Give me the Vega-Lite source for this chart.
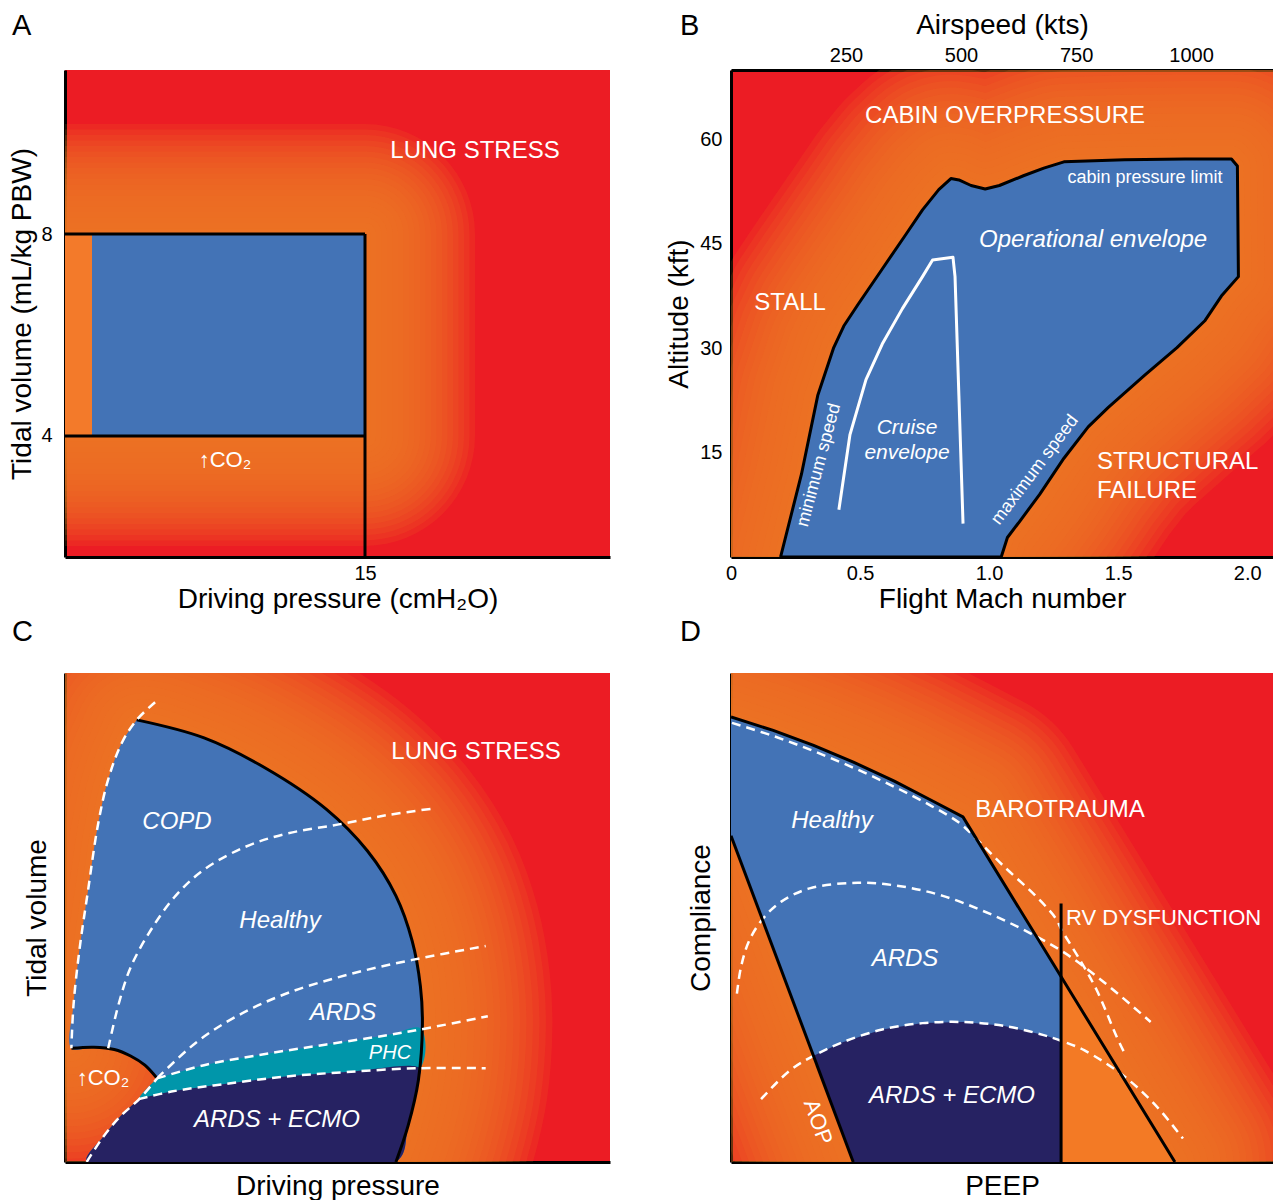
{
  "$schema": "https://vega.github.io/schema/vega-lite/v6.json",
  "padding": {"left": 8, "top": 11, "right": 0, "bottom": 0},
  "background": "white",
  "columns": 2,
  "spacing": {"row": 116, "column": 121},
  "bounds": "flush",
  "datasets": {
    "a_glow": [{"x":0,"y":8},{"x":15,"y":8},{"x":15,"y":4},{"x":0,"y":4},{"x":0,"y":8}],
    "b_env": [{"x":0.192,"y":0},{"x":0.273,"y":11.9},{"x":0.336,"y":23.2},{"x":0.398,"y":30.1},{"x":0.437,"y":33.2},{"x":0.492,"y":36.3},{"x":0.586,"y":41.4},{"x":0.680,"y":46.5},{"x":0.742,"y":49.9},{"x":0.805,"y":52.8},{"x":0.852,"y":54.4},{"x":0.883,"y":54.2},{"x":0.930,"y":53.4},{"x":0.985,"y":52.9},{"x":1.040,"y":53.4},{"x":1.133,"y":54.8},{"x":1.212,"y":55.9},{"x":1.290,"y":56.8},{"x":1.525,"y":57.1},{"x":1.759,"y":57.2},{"x":1.939,"y":57.2},{"x":1.962,"y":56.2},{"x":1.966,"y":40.3},{"x":1.900,"y":37.5},{"x":1.837,"y":34.0},{"x":1.728,"y":30.1},{"x":1.602,"y":26.1},{"x":1.462,"y":21.5},{"x":1.384,"y":18.7},{"x":1.290,"y":14.2},{"x":1.196,"y":9.0},{"x":1.118,"y":5.1},{"x":1.071,"y":2.8},{"x":1.047,"y":0},{"x":0.192,"y":0}],
    "b_cruise": [{"x":0.418,"y":6.8},{"x":0.461,"y":17.6},{"x":0.523,"y":25.5},{"x":0.586,"y":30.6},{"x":0.664,"y":35.7},{"x":0.742,"y":40.3},{"x":0.781,"y":42.7},{"x":0.860,"y":43.1},{"x":0.868,"y":40.3},{"x":0.883,"y":23.2},{"x":0.899,"y":4.8}],
    "c_glow": [{"x":1.17,"y":23.25},{"x":1.56,"y":32.11},{"x":2.68,"y":43.64},{"x":4.18,"y":55.17},{"x":6.06,"y":69.04},{"x":7.93,"y":78.26},{"x":10.53,"y":85.95},{"x":13.16,"y":90.41},{"x":25.52,"y":86.73},{"x":36.75,"y":80.57},{"x":47.98,"y":72.11},{"x":55.47,"y":63.64},{"x":60.72,"y":54.42},{"x":63.71,"y":45.17},{"x":65.21,"y":35.95},{"x":65.58,"y":28.26},{"x":64.84,"y":16.71},{"x":62.97,"y":7.48},{"x":60.72,"y":0}],
    "c_blue": [{"x":13.16,"y":90.41},{"x":25.52,"y":86.73},{"x":36.75,"y":80.57},{"x":47.98,"y":72.11},{"x":55.47,"y":63.64},{"x":60.72,"y":54.42},{"x":63.71,"y":45.17},{"x":65.21,"y":35.95},{"x":65.58,"y":28.26},{"x":64.84,"y":16.71},{"x":62.97,"y":7.48},{"x":60.72,"y":0},{"x":3.98,"y":0},{"x":7.03,"y":5.17},{"x":10.09,"y":9.26},{"x":13.76,"y":13.03},{"x":16.90,"y":17.10},{"x":14.66,"y":19.80},{"x":12.04,"y":21.68},{"x":9.05,"y":23.01},{"x":5.30,"y":23.48},{"x":1.17,"y":23.25},{"x":1.56,"y":32.11},{"x":2.68,"y":43.64},{"x":4.18,"y":55.17},{"x":6.06,"y":69.04},{"x":7.93,"y":78.26},{"x":10.53,"y":85.95},{"x":13.16,"y":90.41}],
    "c_teal": [{"x":16.90,"y":17.10},{"x":25.52,"y":19.80},{"x":36.75,"y":22.09},{"x":47.98,"y":24.03},{"x":59.23,"y":25.95},{"x":65.3,"y":27.3},{"x":65.1,"y":19.18},{"x":51.72,"y":18.40},{"x":40.50,"y":17.48},{"x":29.27,"y":15.95},{"x":19.52,"y":14.40},{"x":13.6,"y":12.9},{"x":16.90,"y":17.10}],
    "c_navy": [{"x":13.6,"y":12.9},{"x":19.52,"y":14.40},{"x":29.27,"y":15.95},{"x":40.50,"y":17.48},{"x":51.72,"y":18.40},{"x":65.1,"y":19.18},{"x":64.84,"y":16.71},{"x":62.97,"y":7.48},{"x":60.72,"y":0},{"x":3.98,"y":0},{"x":7.03,"y":5.17},{"x":10.09,"y":9.26},{"x":13.6,"y":12.9}],
    "c_black": [
      {"id":"outer","x":13.16,"y":90.41},{"id":"outer","x":25.52,"y":86.73},{"id":"outer","x":36.75,"y":80.57},{"id":"outer","x":47.98,"y":72.11},{"id":"outer","x":55.47,"y":63.64},{"id":"outer","x":60.72,"y":54.42},{"id":"outer","x":63.71,"y":45.17},{"id":"outer","x":65.21,"y":35.95},{"id":"outer","x":65.58,"y":28.26},{"id":"outer","x":64.84,"y":16.71},{"id":"outer","x":62.97,"y":7.48},{"id":"outer","x":60.72,"y":0},
      {"id":"arc","x":1.17,"y":23.25},{"id":"arc","x":5.30,"y":23.48},{"id":"arc","x":9.05,"y":23.01},{"id":"arc","x":12.04,"y":21.68},{"id":"arc","x":14.66,"y":19.80},{"id":"arc","x":16.90,"y":17.10}
    ],
    "c_dashed": [
      {"id":"left","x":16.53,"y":94.03},{"id":"left","x":13.16,"y":90.41},{"id":"left","x":10.53,"y":85.95},{"id":"left","x":7.93,"y":78.26},{"id":"left","x":6.06,"y":69.04},{"id":"left","x":4.18,"y":55.17},{"id":"left","x":2.68,"y":43.64},{"id":"left","x":1.56,"y":32.11},{"id":"left","x":1.17,"y":23.25},
      {"id":"copd","x":7.93,"y":23.25},{"id":"copd","x":9.80,"y":32.11},{"id":"copd","x":12.04,"y":39.80},{"id":"copd","x":15.78,"y":47.49},{"id":"copd","x":20.28,"y":54.42},{"id":"copd","x":25.52,"y":59.80},{"id":"copd","x":33.01,"y":64.42},{"id":"copd","x":40.50,"y":67.10},{"id":"copd","x":50.24,"y":69.04},{"id":"copd","x":59.23,"y":70.96},{"id":"copd","x":67.47,"y":72.27},
      {"id":"ards","x":16.90,"y":17.10},{"id":"ards","x":24.02,"y":24.40},{"id":"ards","x":31.50,"y":29.80},{"id":"ards","x":40.50,"y":34.40},{"id":"ards","x":51.72,"y":38.26},{"id":"ards","x":63.71,"y":41.33},{"id":"ards","x":77.19,"y":44.17},
      {"id":"phct","x":16.90,"y":17.10},{"id":"phct","x":25.52,"y":19.80},{"id":"phct","x":36.75,"y":22.09},{"id":"phct","x":47.98,"y":24.03},{"id":"phct","x":59.23,"y":25.95},{"id":"phct","x":65.21,"y":27.10},{"id":"phct","x":77.58,"y":29.80},
      {"id":"phcb","x":13.54,"y":12.86},{"id":"phcb","x":19.52,"y":14.40},{"id":"phcb","x":29.27,"y":15.95},{"id":"phcb","x":40.50,"y":17.48},{"id":"phcb","x":51.72,"y":18.40},{"id":"phcb","x":64.84,"y":19.18},{"id":"phcb","x":77.19,"y":19.18},
      {"id":"ecmo","x":3.98,"y":0},{"id":"ecmo","x":7.03,"y":5.17},{"id":"ecmo","x":10.09,"y":9.26},{"id":"ecmo","x":13.76,"y":13.03},{"id":"ecmo","x":16.90,"y":17.10}
    ],
    "d_glow": [{"x":0,"y":91.0},{"x":7.79,"y":88.26},{"x":15.24,"y":85.19},{"x":22.69,"y":81.72},{"x":30.13,"y":77.87},{"x":36.85,"y":74.03},{"x":42.80,"y":70.57},{"x":81.90,"y":0},{"x":22.55,"y":0},{"x":0,"y":66.73},{"x":0,"y":91.0}],
    "d_blue": [{"x":0,"y":91.0},{"x":7.79,"y":88.26},{"x":15.24,"y":85.19},{"x":22.69,"y":81.72},{"x":30.13,"y":77.87},{"x":36.85,"y":74.03},{"x":42.80,"y":70.57},{"x":60.90,"y":37.89},{"x":60.90,"y":0},{"x":22.55,"y":0},{"x":0,"y":66.73},{"x":0,"y":91.0}],
    "d_navy": [{"x":15.24,"y":21.72},{"x":20.46,"y":24.42},{"x":27.90,"y":27.10},{"x":35.35,"y":28.40},{"x":42.80,"y":28.63},{"x":50.24,"y":27.87},{"x":57.69,"y":25.95},{"x":60.90,"y":24.79},{"x":60.90,"y":0},{"x":22.55,"y":0},{"x":15.24,"y":21.72}],
    "d_black": [
      {"id":"top","x":0,"y":91.0},{"id":"top","x":7.79,"y":88.26},{"id":"top","x":15.24,"y":85.19},{"id":"top","x":22.69,"y":81.72},{"id":"top","x":30.13,"y":77.87},{"id":"top","x":36.85,"y":74.03},{"id":"top","x":42.80,"y":70.57},{"id":"top","x":81.90,"y":0},
      {"id":"aop","x":0,"y":66.73},{"id":"aop","x":22.55,"y":0},
      {"id":"rv","x":60.90,"y":52.86},{"id":"rv","x":60.90,"y":0}
    ],
    "d_dashed": [
      {"id":"healthy","x":0.18,"y":89.80},{"id":"healthy","x":7.79,"y":87.12},{"id":"healthy","x":15.24,"y":84.03},{"id":"healthy","x":22.69,"y":80.57},{"id":"healthy","x":30.13,"y":76.73},{"id":"healthy","x":36.85,"y":72.88},{"id":"healthy","x":42.05,"y":69.41},{"id":"healthy","x":45.04,"y":66.34},{"id":"healthy","x":50.24,"y":60.57},{"id":"healthy","x":56.20,"y":54.42},{"id":"healthy","x":59.93,"y":49.80},{"id":"healthy","x":61.01,"y":47.44},{"id":"healthy","x":64.39,"y":41.31},{"id":"healthy","x":67.47,"y":35.17},{"id":"healthy","x":71.16,"y":25.62},{"id":"healthy","x":72.51,"y":22.49},
      {"id":"ards","x":1.09,"y":34.42},{"id":"ards","x":1.83,"y":39.80},{"id":"ards","x":3.32,"y":45.17},{"id":"ards","x":5.92,"y":49.80},{"id":"ards","x":9.28,"y":53.25},{"id":"ards","x":14.50,"y":55.95},{"id":"ards","x":23.43,"y":57.10},{"id":"ards","x":31.62,"y":56.34},{"id":"ards","x":39.08,"y":54.42},{"id":"ards","x":46.53,"y":51.33},{"id":"ards","x":53.97,"y":47.49},{"id":"ards","x":61.42,"y":42.86},{"id":"ards","x":68.87,"y":36.71},{"id":"ards","x":77.43,"y":28.63},
      {"id":"ecmo","x":5.55,"y":12.86},{"id":"ecmo","x":10.77,"y":18.63},{"id":"ecmo","x":15.24,"y":21.72},{"id":"ecmo","x":20.46,"y":24.42},{"id":"ecmo","x":27.90,"y":27.10},{"id":"ecmo","x":35.35,"y":28.40},{"id":"ecmo","x":42.80,"y":28.63},{"id":"ecmo","x":50.24,"y":27.87},{"id":"ecmo","x":57.69,"y":25.95},{"id":"ecmo","x":60.90,"y":24.79},{"id":"ecmo","x":65.15,"y":22.86},{"id":"ecmo","x":72.60,"y":17.48},{"id":"ecmo","x":78.56,"y":11.33},{"id":"ecmo","x":83.39,"y":4.79}
    ]
  },
  "concat": [
    {
      "width": 545, "height": 487,
      "title": {"text": "A", "dx": -53, "offset": 29, "frame": "group"},
      "view": {"fill": "#EC1C24", "stroke": null},
      "encoding": {
        "x": {"field": "x", "type": "quantitative", "scale": {"domain": [0, 27.25], "nice": false, "zero": false}, "axis": {"values": [15], "title": "Driving pressure (cmH₂O)", "labelPadding": 6, "titlePadding": 2}},
        "y": {"field": "y", "type": "quantitative", "scale": {"domain": [1.6, 11.25], "nice": false, "zero": false}, "axis": {"values": [4, 8], "title": "Tidal volume (mL/kg PBW)", "labelPadding": 13, "titlePadding": 4}}
      },
      "layer": [
        {
          "data": {"name": "a_glow"},
          "encoding": {"order": {"value": null}},
          "layer": [
            {"mark": {"type": "line", "stroke": "#F47B20", "strokeWidth": 220, "strokeOpacity": 0.14, "strokeJoin": "round", "strokeCap": "round", "clip": true}},
            {"mark": {"type": "line", "stroke": "#F47B20", "strokeWidth": 209, "strokeOpacity": 0.14, "strokeJoin": "round", "strokeCap": "round", "clip": true}},
            {"mark": {"type": "line", "stroke": "#F47B20", "strokeWidth": 198, "strokeOpacity": 0.14, "strokeJoin": "round", "strokeCap": "round", "clip": true}},
            {"mark": {"type": "line", "stroke": "#F47B20", "strokeWidth": 187, "strokeOpacity": 0.14, "strokeJoin": "round", "strokeCap": "round", "clip": true}},
            {"mark": {"type": "line", "stroke": "#F47B20", "strokeWidth": 176, "strokeOpacity": 0.14, "strokeJoin": "round", "strokeCap": "round", "clip": true}},
            {"mark": {"type": "line", "stroke": "#F47B20", "strokeWidth": 165, "strokeOpacity": 0.14, "strokeJoin": "round", "strokeCap": "round", "clip": true}},
            {"mark": {"type": "line", "stroke": "#F47B20", "strokeWidth": 154, "strokeOpacity": 0.14, "strokeJoin": "round", "strokeCap": "round", "clip": true}},
            {"mark": {"type": "line", "stroke": "#F47B20", "strokeWidth": 143, "strokeOpacity": 0.14, "strokeJoin": "round", "strokeCap": "round", "clip": true}},
            {"mark": {"type": "line", "stroke": "#F47B20", "strokeWidth": 132, "strokeOpacity": 0.14, "strokeJoin": "round", "strokeCap": "round", "clip": true}},
            {"mark": {"type": "line", "stroke": "#F47B20", "strokeWidth": 121, "strokeOpacity": 0.14, "strokeJoin": "round", "strokeCap": "round", "clip": true}},
            {"mark": {"type": "line", "stroke": "#F47B20", "strokeWidth": 110, "strokeOpacity": 0.14, "strokeJoin": "round", "strokeCap": "round", "clip": true}},
            {"mark": {"type": "line", "stroke": "#F47B20", "strokeWidth": 99, "strokeOpacity": 0.14, "strokeJoin": "round", "strokeCap": "round", "clip": true}},
            {"mark": {"type": "line", "stroke": "#F47B20", "strokeWidth": 88, "strokeOpacity": 0.14, "strokeJoin": "round", "strokeCap": "round", "clip": true}},
            {"mark": {"type": "line", "stroke": "#F47B20", "strokeWidth": 77, "strokeOpacity": 0.14, "strokeJoin": "round", "strokeCap": "round", "clip": true}},
            {"mark": {"type": "line", "stroke": "#F47B20", "strokeWidth": 66, "strokeOpacity": 0.14, "strokeJoin": "round", "strokeCap": "round", "clip": true}},
            {"mark": {"type": "line", "stroke": "#F47B20", "strokeWidth": 55, "strokeOpacity": 0.14, "strokeJoin": "round", "strokeCap": "round", "clip": true}},
            {"mark": {"type": "line", "stroke": "#F47B20", "strokeWidth": 44, "strokeOpacity": 0.14, "strokeJoin": "round", "strokeCap": "round", "clip": true}},
            {"mark": {"type": "line", "stroke": "#F47B20", "strokeWidth": 33, "strokeOpacity": 0.14, "strokeJoin": "round", "strokeCap": "round", "clip": true}},
            {"mark": {"type": "line", "stroke": "#F47B20", "strokeWidth": 22, "strokeOpacity": 0.14, "strokeJoin": "round", "strokeCap": "round", "clip": true}},
            {"mark": {"type": "line", "stroke": "#F47B20", "strokeWidth": 11, "strokeOpacity": 0.14, "strokeJoin": "round", "strokeCap": "round", "clip": true}}
          ]
        },
        {"data": {"values": [{"x": 0, "x2": 1.35, "y": 4, "y2": 8}]}, "mark": {"type": "rect", "color": "#F37A2A"}, "encoding": {"x2": {"field": "x2"}, "y2": {"field": "y2"}}},
        {"data": {"values": [{"x": 1.35, "x2": 15, "y": 4, "y2": 8}]}, "mark": {"type": "rect", "color": "#4373B6"}, "encoding": {"x2": {"field": "x2"}, "y2": {"field": "y2"}}},
        {"data": {"values": [{"x": 0, "x2": 15, "y": 8, "y2": 8}, {"x": 15, "x2": 15, "y": 8, "y2": 1.6}, {"x": 0, "x2": 15, "y": 4, "y2": 4}]}, "mark": {"type": "rule", "color": "black", "strokeWidth": 3}, "encoding": {"x2": {"field": "x2"}, "y2": {"field": "y2"}}},
        {"data": {"values": [{"x": 20.5, "y": 9.64, "t": "LUNG STRESS"}]}, "mark": {"type": "text", "fontSize": 24, "color": "white"}, "encoding": {"text": {"field": "t"}}},
        {"data": {"values": [{"x": 8.0, "y": 3.52, "t": "↑CO₂"}]}, "mark": {"type": "text", "fontSize": 22, "color": "white"}, "encoding": {"text": {"field": "t"}}}
      ]
    },
    {
      "width": 542, "height": 487,
      "title": {"text": "B", "dx": -51, "offset": 0, "dy": 30, "frame": "group"},
      "view": {"fill": "#EC1C24", "stroke": null},
      "resolve": {"scale": {"x": "independent"}, "axis": {"x": "independent"}},
      "layer": [
        {
          "encoding": {
            "x": {"field": "x", "type": "quantitative", "scale": {"domain": [0, 2.1], "nice": false, "zero": false}, "axis": {"values": [0, 0.5, 1, 1.5, 2], "labelExpr": "datum.value === 0 ? '0' : format(datum.value, '.1f')", "title": "Flight Mach number", "labelPadding": 6, "titlePadding": 2}},
            "y": {"field": "y", "type": "quantitative", "scale": {"domain": [0, 70], "nice": false, "zero": false}, "axis": {"values": [15, 30, 45, 60], "title": "Altitude (kft)", "labelPadding": 9, "titlePadding": 6}}
          },
          "layer": [
            {
              "data": {"name": "b_env"},
              "encoding": {"order": {"value": null}},
              "layer": [
                {"mark": {"type": "line", "stroke": "#F47B20", "strokeWidth": 260, "strokeOpacity": 0.14, "strokeJoin": "round", "strokeCap": "round", "clip": true}},
                {"mark": {"type": "line", "stroke": "#F47B20", "strokeWidth": 247, "strokeOpacity": 0.14, "strokeJoin": "round", "strokeCap": "round", "clip": true}},
                {"mark": {"type": "line", "stroke": "#F47B20", "strokeWidth": 234, "strokeOpacity": 0.14, "strokeJoin": "round", "strokeCap": "round", "clip": true}},
                {"mark": {"type": "line", "stroke": "#F47B20", "strokeWidth": 221, "strokeOpacity": 0.14, "strokeJoin": "round", "strokeCap": "round", "clip": true}},
                {"mark": {"type": "line", "stroke": "#F47B20", "strokeWidth": 208, "strokeOpacity": 0.14, "strokeJoin": "round", "strokeCap": "round", "clip": true}},
                {"mark": {"type": "line", "stroke": "#F47B20", "strokeWidth": 195, "strokeOpacity": 0.14, "strokeJoin": "round", "strokeCap": "round", "clip": true}},
                {"mark": {"type": "line", "stroke": "#F47B20", "strokeWidth": 182, "strokeOpacity": 0.14, "strokeJoin": "round", "strokeCap": "round", "clip": true}},
                {"mark": {"type": "line", "stroke": "#F47B20", "strokeWidth": 169, "strokeOpacity": 0.14, "strokeJoin": "round", "strokeCap": "round", "clip": true}},
                {"mark": {"type": "line", "stroke": "#F47B20", "strokeWidth": 156, "strokeOpacity": 0.14, "strokeJoin": "round", "strokeCap": "round", "clip": true}},
                {"mark": {"type": "line", "stroke": "#F47B20", "strokeWidth": 143, "strokeOpacity": 0.14, "strokeJoin": "round", "strokeCap": "round", "clip": true}},
                {"mark": {"type": "line", "stroke": "#F47B20", "strokeWidth": 130, "strokeOpacity": 0.14, "strokeJoin": "round", "strokeCap": "round", "clip": true}},
                {"mark": {"type": "line", "stroke": "#F47B20", "strokeWidth": 117, "strokeOpacity": 0.14, "strokeJoin": "round", "strokeCap": "round", "clip": true}},
                {"mark": {"type": "line", "stroke": "#F47B20", "strokeWidth": 104, "strokeOpacity": 0.14, "strokeJoin": "round", "strokeCap": "round", "clip": true}},
                {"mark": {"type": "line", "stroke": "#F47B20", "strokeWidth": 91, "strokeOpacity": 0.14, "strokeJoin": "round", "strokeCap": "round", "clip": true}},
                {"mark": {"type": "line", "stroke": "#F47B20", "strokeWidth": 78, "strokeOpacity": 0.14, "strokeJoin": "round", "strokeCap": "round", "clip": true}},
                {"mark": {"type": "line", "stroke": "#F47B20", "strokeWidth": 65, "strokeOpacity": 0.14, "strokeJoin": "round", "strokeCap": "round", "clip": true}},
                {"mark": {"type": "line", "stroke": "#F47B20", "strokeWidth": 52, "strokeOpacity": 0.14, "strokeJoin": "round", "strokeCap": "round", "clip": true}},
                {"mark": {"type": "line", "stroke": "#F47B20", "strokeWidth": 39, "strokeOpacity": 0.14, "strokeJoin": "round", "strokeCap": "round", "clip": true}},
                {"mark": {"type": "line", "stroke": "#F47B20", "strokeWidth": 26, "strokeOpacity": 0.14, "strokeJoin": "round", "strokeCap": "round", "clip": true}},
                {"mark": {"type": "line", "stroke": "#F47B20", "strokeWidth": 13, "strokeOpacity": 0.14, "strokeJoin": "round", "strokeCap": "round", "clip": true}},
                {"mark": {"type": "line", "fill": "#4373B6", "stroke": "black", "strokeWidth": 3, "strokeJoin": "round", "clip": true}}
              ]
            },
            {"data": {"name": "b_cruise"}, "mark": {"type": "line", "stroke": "white", "strokeWidth": 3, "strokeJoin": "round"}, "encoding": {"order": {"value": null}}},
            {"data": {"values": [{"x": 1.062, "y": 63.4, "t": "CABIN OVERPRESSURE"}, {"x": 0.229, "y": 36.5, "t": "STALL"}]}, "mark": {"type": "text", "fontSize": 24, "color": "white"}, "encoding": {"text": {"field": "t"}}},
            {"data": {"values": [{"x": 1.418, "y": 13.7, "t": "STRUCTURAL"}, {"x": 1.418, "y": 9.5, "t": "FAILURE"}]}, "mark": {"type": "text", "fontSize": 24, "color": "white", "align": "left"}, "encoding": {"text": {"field": "t"}}},
            {"data": {"values": [{"x": 1.403, "y": 45.6, "t": "Operational envelope"}]}, "mark": {"type": "text", "fontSize": 24, "fontStyle": "italic", "color": "white"}, "encoding": {"text": {"field": "t"}}},
            {"data": {"values": [{"x": 1.604, "y": 54.5, "t": "cabin pressure limit"}]}, "mark": {"type": "text", "fontSize": 18, "color": "white"}, "encoding": {"text": {"field": "t"}}},
            {"data": {"values": [{"x": 0.682, "y": 18.5, "t": "Cruise"}, {"x": 0.682, "y": 14.9, "t": "envelope"}]}, "mark": {"type": "text", "fontSize": 21, "fontStyle": "italic", "color": "white"}, "encoding": {"text": {"field": "t"}}},
            {"data": {"values": [{"x": 0.341, "y": 13.2, "t": "minimum speed"}]}, "mark": {"type": "text", "fontSize": 18, "color": "white", "angle": -75}, "encoding": {"text": {"field": "t"}}},
            {"data": {"values": [{"x": 1.178, "y": 12.5, "t": "maximum speed"}]}, "mark": {"type": "text", "fontSize": 18, "color": "white", "angle": -53}, "encoding": {"text": {"field": "t"}}}
          ]
        },
        {
          "data": {"values": [{"kts": 250}, {"kts": 500}, {"kts": 750}, {"kts": 1000}]},
          "mark": {"type": "point", "opacity": 0},
          "encoding": {
            "x": {"field": "kts", "type": "quantitative", "scale": {"domain": [0, 1178], "nice": false, "zero": false}, "axis": {"orient": "top", "values": [250, 500, 750, 1000], "format": "d", "title": "Airspeed (kts)", "labelPadding": 5, "titlePadding": 6}}
          }
        }
      ]
    },
    {
      "width": 545, "height": 489,
      "title": {"text": "C", "dx": -53, "offset": 26, "frame": "group"},
      "view": {"fill": "#EC1C24", "stroke": null},
      "encoding": {
        "x": {"field": "x", "type": "quantitative", "scale": {"domain": [0, 100], "nice": false, "zero": false}, "axis": {"labels": false, "title": "Driving pressure", "titlePadding": 10}},
        "y": {"field": "y", "type": "quantitative", "scale": {"domain": [0, 100], "nice": false, "zero": false}, "axis": {"labels": false, "title": "Tidal volume", "titlePadding": 14}}
      },
      "layer": [
        {
          "data": {"name": "c_glow"},
          "encoding": {"order": {"value": null}},
          "layer": [
            {"mark": {"type": "line", "stroke": "#F47B20", "strokeWidth": 260, "strokeOpacity": 0.14, "strokeJoin": "round", "strokeCap": "round", "interpolate": "catmull-rom", "clip": true}},
            {"mark": {"type": "line", "stroke": "#F47B20", "strokeWidth": 247, "strokeOpacity": 0.14, "strokeJoin": "round", "strokeCap": "round", "interpolate": "catmull-rom", "clip": true}},
            {"mark": {"type": "line", "stroke": "#F47B20", "strokeWidth": 234, "strokeOpacity": 0.14, "strokeJoin": "round", "strokeCap": "round", "interpolate": "catmull-rom", "clip": true}},
            {"mark": {"type": "line", "stroke": "#F47B20", "strokeWidth": 221, "strokeOpacity": 0.14, "strokeJoin": "round", "strokeCap": "round", "interpolate": "catmull-rom", "clip": true}},
            {"mark": {"type": "line", "stroke": "#F47B20", "strokeWidth": 208, "strokeOpacity": 0.14, "strokeJoin": "round", "strokeCap": "round", "interpolate": "catmull-rom", "clip": true}},
            {"mark": {"type": "line", "stroke": "#F47B20", "strokeWidth": 195, "strokeOpacity": 0.14, "strokeJoin": "round", "strokeCap": "round", "interpolate": "catmull-rom", "clip": true}},
            {"mark": {"type": "line", "stroke": "#F47B20", "strokeWidth": 182, "strokeOpacity": 0.14, "strokeJoin": "round", "strokeCap": "round", "interpolate": "catmull-rom", "clip": true}},
            {"mark": {"type": "line", "stroke": "#F47B20", "strokeWidth": 169, "strokeOpacity": 0.14, "strokeJoin": "round", "strokeCap": "round", "interpolate": "catmull-rom", "clip": true}},
            {"mark": {"type": "line", "stroke": "#F47B20", "strokeWidth": 156, "strokeOpacity": 0.14, "strokeJoin": "round", "strokeCap": "round", "interpolate": "catmull-rom", "clip": true}},
            {"mark": {"type": "line", "stroke": "#F47B20", "strokeWidth": 143, "strokeOpacity": 0.14, "strokeJoin": "round", "strokeCap": "round", "interpolate": "catmull-rom", "clip": true}},
            {"mark": {"type": "line", "stroke": "#F47B20", "strokeWidth": 130, "strokeOpacity": 0.14, "strokeJoin": "round", "strokeCap": "round", "interpolate": "catmull-rom", "clip": true}},
            {"mark": {"type": "line", "stroke": "#F47B20", "strokeWidth": 117, "strokeOpacity": 0.14, "strokeJoin": "round", "strokeCap": "round", "interpolate": "catmull-rom", "clip": true}},
            {"mark": {"type": "line", "stroke": "#F47B20", "strokeWidth": 104, "strokeOpacity": 0.14, "strokeJoin": "round", "strokeCap": "round", "interpolate": "catmull-rom", "clip": true}},
            {"mark": {"type": "line", "stroke": "#F47B20", "strokeWidth": 91, "strokeOpacity": 0.14, "strokeJoin": "round", "strokeCap": "round", "interpolate": "catmull-rom", "clip": true}},
            {"mark": {"type": "line", "stroke": "#F47B20", "strokeWidth": 78, "strokeOpacity": 0.14, "strokeJoin": "round", "strokeCap": "round", "interpolate": "catmull-rom", "clip": true}},
            {"mark": {"type": "line", "stroke": "#F47B20", "strokeWidth": 65, "strokeOpacity": 0.14, "strokeJoin": "round", "strokeCap": "round", "interpolate": "catmull-rom", "clip": true}},
            {"mark": {"type": "line", "stroke": "#F47B20", "strokeWidth": 52, "strokeOpacity": 0.14, "strokeJoin": "round", "strokeCap": "round", "interpolate": "catmull-rom", "clip": true}},
            {"mark": {"type": "line", "stroke": "#F47B20", "strokeWidth": 39, "strokeOpacity": 0.14, "strokeJoin": "round", "strokeCap": "round", "interpolate": "catmull-rom", "clip": true}},
            {"mark": {"type": "line", "stroke": "#F47B20", "strokeWidth": 26, "strokeOpacity": 0.14, "strokeJoin": "round", "strokeCap": "round", "interpolate": "catmull-rom", "clip": true}},
            {"mark": {"type": "line", "stroke": "#F47B20", "strokeWidth": 13, "strokeOpacity": 0.14, "strokeJoin": "round", "strokeCap": "round", "interpolate": "catmull-rom", "clip": true}}
          ]
        },
        {"data": {"name": "c_blue"}, "mark": {"type": "line", "fill": "#4373B6", "strokeOpacity": 0, "interpolate": "catmull-rom", "clip": true}, "encoding": {"order": {"value": null}}},
        {"data": {"name": "c_teal"}, "mark": {"type": "line", "fill": "#0096AA", "strokeOpacity": 0, "interpolate": "catmull-rom", "clip": true}, "encoding": {"order": {"value": null}}},
        {"data": {"name": "c_navy"}, "mark": {"type": "line", "fill": "#262262", "strokeOpacity": 0, "interpolate": "catmull-rom", "clip": true}, "encoding": {"order": {"value": null}}},
        {"data": {"name": "c_black"}, "mark": {"type": "line", "stroke": "black", "strokeWidth": 3, "interpolate": "catmull-rom", "clip": true}, "encoding": {"detail": {"field": "id"}, "order": {"value": null}}},
        {"data": {"name": "c_dashed"}, "mark": {"type": "line", "stroke": "white", "strokeWidth": 2.5, "strokeDash": [9, 6], "interpolate": "catmull-rom", "clip": true}, "encoding": {"detail": {"field": "id"}, "order": {"value": null}}},
        {"data": {"values": [{"x": 75.41, "y": 83.84, "t": "LUNG STRESS"}]}, "mark": {"type": "text", "fontSize": 24, "color": "white"}, "encoding": {"text": {"field": "t"}}},
        {"data": {"values": [{"x": 20.55, "y": 69.53, "t": "COPD"}, {"x": 39.45, "y": 49.28, "t": "Healthy"}, {"x": 51.01, "y": 30.47, "t": "ARDS"}, {"x": 38.9, "y": 8.59, "t": "ARDS + ECMO"}]}, "mark": {"type": "text", "fontSize": 24, "fontStyle": "italic", "color": "white"}, "encoding": {"text": {"field": "t"}}},
        {"data": {"values": [{"x": 59.63, "y": 22.29, "t": "PHC"}]}, "mark": {"type": "text", "fontSize": 20, "fontStyle": "italic", "color": "white"}, "encoding": {"text": {"field": "t"}}},
        {"data": {"values": [{"x": 6.97, "y": 17.18, "t": "↑CO₂"}]}, "mark": {"type": "text", "fontSize": 22, "color": "white"}, "encoding": {"text": {"field": "t"}}}
      ]
    },
    {
      "width": 542, "height": 489,
      "title": {"text": "D", "dx": -51, "offset": 26, "frame": "group"},
      "view": {"fill": "#EC1C24", "stroke": null},
      "encoding": {
        "x": {"field": "x", "type": "quantitative", "scale": {"domain": [0, 100], "nice": false, "zero": false}, "axis": {"labels": false, "title": "PEEP", "titlePadding": 10}},
        "y": {"field": "y", "type": "quantitative", "scale": {"domain": [0, 100], "nice": false, "zero": false}, "axis": {"labels": false, "title": "Compliance", "titlePadding": 16}}
      },
      "layer": [
        {
          "data": {"name": "d_glow"},
          "encoding": {"order": {"value": null}},
          "layer": [
            {"mark": {"type": "line", "stroke": "#F47B20", "strokeWidth": 260, "strokeOpacity": 0.14, "strokeJoin": "round", "strokeCap": "round", "clip": true}},
            {"mark": {"type": "line", "stroke": "#F47B20", "strokeWidth": 247, "strokeOpacity": 0.14, "strokeJoin": "round", "strokeCap": "round", "clip": true}},
            {"mark": {"type": "line", "stroke": "#F47B20", "strokeWidth": 234, "strokeOpacity": 0.14, "strokeJoin": "round", "strokeCap": "round", "clip": true}},
            {"mark": {"type": "line", "stroke": "#F47B20", "strokeWidth": 221, "strokeOpacity": 0.14, "strokeJoin": "round", "strokeCap": "round", "clip": true}},
            {"mark": {"type": "line", "stroke": "#F47B20", "strokeWidth": 208, "strokeOpacity": 0.14, "strokeJoin": "round", "strokeCap": "round", "clip": true}},
            {"mark": {"type": "line", "stroke": "#F47B20", "strokeWidth": 195, "strokeOpacity": 0.14, "strokeJoin": "round", "strokeCap": "round", "clip": true}},
            {"mark": {"type": "line", "stroke": "#F47B20", "strokeWidth": 182, "strokeOpacity": 0.14, "strokeJoin": "round", "strokeCap": "round", "clip": true}},
            {"mark": {"type": "line", "stroke": "#F47B20", "strokeWidth": 169, "strokeOpacity": 0.14, "strokeJoin": "round", "strokeCap": "round", "clip": true}},
            {"mark": {"type": "line", "stroke": "#F47B20", "strokeWidth": 156, "strokeOpacity": 0.14, "strokeJoin": "round", "strokeCap": "round", "clip": true}},
            {"mark": {"type": "line", "stroke": "#F47B20", "strokeWidth": 143, "strokeOpacity": 0.14, "strokeJoin": "round", "strokeCap": "round", "clip": true}},
            {"mark": {"type": "line", "stroke": "#F47B20", "strokeWidth": 130, "strokeOpacity": 0.14, "strokeJoin": "round", "strokeCap": "round", "clip": true}},
            {"mark": {"type": "line", "stroke": "#F47B20", "strokeWidth": 117, "strokeOpacity": 0.14, "strokeJoin": "round", "strokeCap": "round", "clip": true}},
            {"mark": {"type": "line", "stroke": "#F47B20", "strokeWidth": 104, "strokeOpacity": 0.14, "strokeJoin": "round", "strokeCap": "round", "clip": true}},
            {"mark": {"type": "line", "stroke": "#F47B20", "strokeWidth": 91, "strokeOpacity": 0.14, "strokeJoin": "round", "strokeCap": "round", "clip": true}},
            {"mark": {"type": "line", "stroke": "#F47B20", "strokeWidth": 78, "strokeOpacity": 0.14, "strokeJoin": "round", "strokeCap": "round", "clip": true}},
            {"mark": {"type": "line", "stroke": "#F47B20", "strokeWidth": 65, "strokeOpacity": 0.14, "strokeJoin": "round", "strokeCap": "round", "clip": true}},
            {"mark": {"type": "line", "stroke": "#F47B20", "strokeWidth": 52, "strokeOpacity": 0.14, "strokeJoin": "round", "strokeCap": "round", "clip": true}},
            {"mark": {"type": "line", "stroke": "#F47B20", "strokeWidth": 39, "strokeOpacity": 0.14, "strokeJoin": "round", "strokeCap": "round", "clip": true}},
            {"mark": {"type": "line", "stroke": "#F47B20", "strokeWidth": 26, "strokeOpacity": 0.14, "strokeJoin": "round", "strokeCap": "round", "clip": true}},
            {"mark": {"type": "line", "stroke": "#F47B20", "strokeWidth": 13, "strokeOpacity": 0.14, "strokeJoin": "round", "strokeCap": "round", "clip": true}},
            {"mark": {"type": "line", "fill": "#F37A25", "strokeOpacity": 0, "clip": true}}
          ]
        },
        {"data": {"name": "d_blue"}, "mark": {"type": "line", "fill": "#4373B6", "strokeOpacity": 0, "clip": true}, "encoding": {"order": {"value": null}}},
        {"data": {"name": "d_navy"}, "mark": {"type": "line", "fill": "#262262", "strokeOpacity": 0, "clip": true}, "encoding": {"order": {"value": null}}},
        {"data": {"name": "d_dashed"}, "mark": {"type": "line", "stroke": "white", "strokeWidth": 2.5, "strokeDash": [9, 6], "interpolate": "catmull-rom", "clip": true}, "encoding": {"detail": {"field": "id"}, "order": {"value": null}}},
        {"data": {"name": "d_black"}, "mark": {"type": "line", "stroke": "black", "strokeWidth": 3, "clip": true}, "encoding": {"detail": {"field": "id"}, "order": {"value": null}}},
        {"data": {"values": [{"x": 60.7, "y": 71.98, "t": "BAROTRAUMA"}]}, "mark": {"type": "text", "fontSize": 24, "color": "white"}, "encoding": {"text": {"field": "t"}}},
        {"data": {"values": [{"x": 61.81, "y": 49.9, "t": "RV DYSFUNCTION"}]}, "mark": {"type": "text", "fontSize": 22, "color": "white", "align": "left"}, "encoding": {"text": {"field": "t"}}},
        {"data": {"values": [{"x": 18.63, "y": 69.73, "t": "Healthy"}, {"x": 32.1, "y": 41.51, "t": "ARDS"}, {"x": 40.77, "y": 13.5, "t": "ARDS + ECMO"}]}, "mark": {"type": "text", "fontSize": 24, "fontStyle": "italic", "color": "white"}, "encoding": {"text": {"field": "t"}}},
        {"data": {"values": [{"x": 16.05, "y": 8.18, "t": "AOP"}]}, "mark": {"type": "text", "fontSize": 22, "color": "white", "angle": 70}, "encoding": {"text": {"field": "t"}}}
      ]
    }
  ],
  "config": {
    "font": "Liberation Sans",
    "view": {"stroke": null},
    "axis": {"domainColor": "black", "domainWidth": 3, "ticks": false, "grid": false, "labelFont": "Liberation Sans", "labelFontSize": 20, "labelColor": "black", "titleFont": "Liberation Sans", "titleFontSize": 28, "titleFontWeight": "normal", "titleColor": "black", "labelFlush": false, "labelOverlap": false},
    "title": {"font": "Liberation Sans", "fontSize": 29, "fontWeight": "normal", "anchor": "start", "color": "black"},
    "text": {"font": "Liberation Sans", "color": "white", "align": "center", "baseline": "middle"}
  }
}
